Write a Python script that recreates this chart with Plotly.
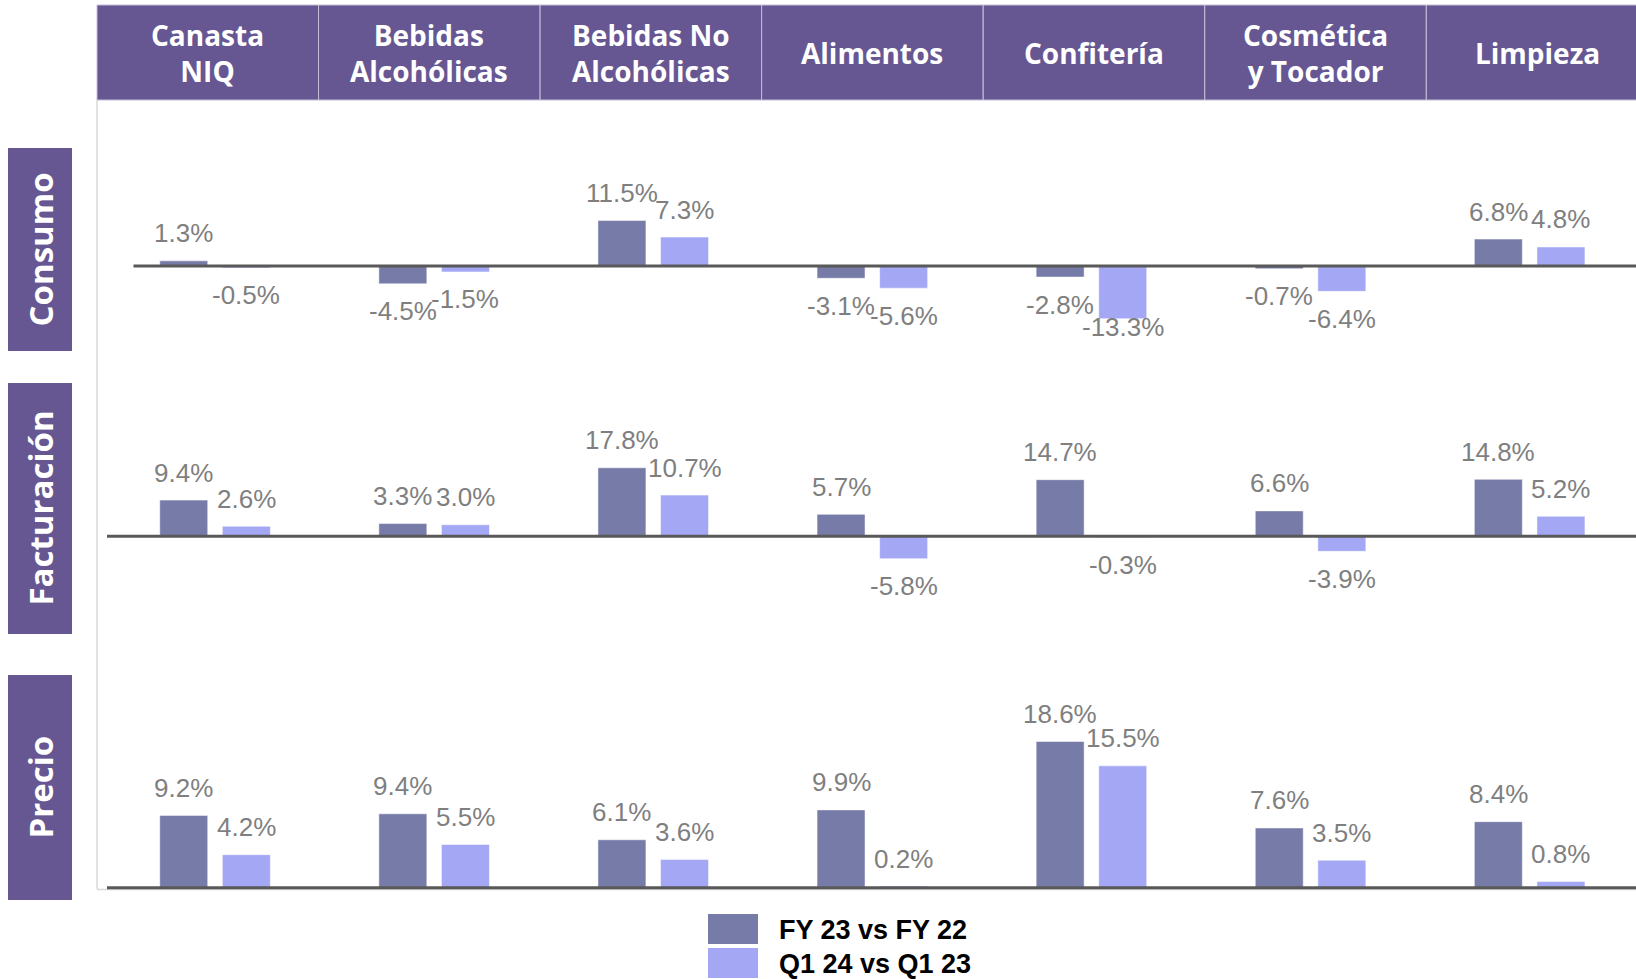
import plotly.graph_objects as go

# ---------------- data ----------------
categories = ["Canasta<br>NIQ", "Bebidas<br>Alcohólicas", "Bebidas No<br>Alcohólicas",
              "Alimentos", "Confitería", "Cosmética<br>y Tocador", "Limpieza"]
metrics = ["Consumo", "Facturación", "Precio"]
series_names = ["FY 23 vs FY 22", "Q1 24 vs Q1 23"]

consumo_fy = [1.3, -4.5, 11.5, -3.1, -2.8, -0.7, 6.8]
consumo_q1 = [-0.5, -1.5, 7.3, -5.6, -13.3, -6.4, 4.8]
facturacion_fy = [9.4, 3.3, 17.8, 5.7, 14.7, 6.6, 14.8]
facturacion_q1 = [2.6, 3.0, 10.7, -5.8, -0.3, -3.9, 5.2]
precio_fy = [9.2, 9.4, 6.1, 9.9, 18.6, 7.6, 8.4]
precio_q1 = [4.2, 5.5, 3.6, 0.2, 15.5, 3.5, 0.8]

# ---------------- style / layout ----------------
W, H = 1636, 979
PURPLE = "#665793"
FY_COLOR = "#777ba8"
Q1_COLOR = "#a3a7f4"
LABEL_GRAY = "#7f7f7f"
BASE_GRAY = "#595959"
BORDER_GRAY = "#d9d9d9"

CAT_PX = 219.1          # pixel width of one category
X_LEFT = 105.5          # pixel of left edge of category 0
BAR_W = 0.219
FY_OFF, Q1_OFF = -0.2524, 0.0333
LABEL_GAP = 27.5

# row geometry (pixels): zero line, px per %, domain top, domain bottom, baseline start, label floor
rows = [
    dict(zero=266.0, s=3.96, top=110, bottom=372, base_x=133.5, floor=327.0),
    dict(zero=536.3, s=3.85, top=380, bottom=640, base_x=107.0, floor=1e9),
    dict(zero=887.7, s=7.86, top=650, bottom=895, base_x=107.0, floor=1e9),
]
row_values = [(consumo_fy, consumo_q1), (facturacion_fy, facturacion_q1), (precio_fy, precio_q1)]

fig = go.Figure()
annotations = []
shapes = []
idx = list(range(len(categories)))

for r, (cfg, (fy, q1)) in enumerate(zip(rows, row_values)):
    xa = "x" if r == 0 else f"x{r+1}"
    ya = "y" if r == 0 else f"y{r+1}"
    for vals, off, col, name in ((fy, FY_OFF, FY_COLOR, series_names[0]),
                                 (q1, Q1_OFF, Q1_COLOR, series_names[1])):
        fig.add_trace(go.Bar(x=idx, y=vals, width=BAR_W, offset=off, name=name,
                             marker=dict(color=col, line=dict(color="rgba(255,255,255,0.5)", width=1)),
                             xaxis=xa, yaxis=ya, showlegend=False))
        for i, v in enumerate(vals):
            end_px = cfg["zero"] - v * cfg["s"]
            if v >= 0:
                lab_px = end_px - LABEL_GAP
            else:
                lab_px = min(end_px + LABEL_GAP, cfg["floor"])
            annotations.append(dict(x=i + off + BAR_W / 2, y=v, xref=xa, yref=ya,
                                    yshift=end_px - lab_px, text=f"{v:.1f}%", showarrow=False,
                                    xanchor="center", yanchor="middle",
                                    font=dict(family="Liberation Sans, Arial", size=26, color=LABEL_GRAY)))
    # baseline
    shapes.append(dict(type="line", xref="paper", yref=ya, x0=cfg["base_x"] / W, x1=1, y0=0, y1=0,
                       line=dict(color=BASE_GRAY, width=3), layer="above"))

layout_axes = {}
x_domain = [X_LEFT / W, 1]
x_range = [-0.5, -0.5 + (W - X_LEFT) / CAT_PX]
for r, cfg in enumerate(rows):
    xk = "xaxis" if r == 0 else f"xaxis{r+1}"
    yk = "yaxis" if r == 0 else f"yaxis{r+1}"
    ya = "y" if r == 0 else f"y{r+1}"
    xa = "x" if r == 0 else f"x{r+1}"
    layout_axes[xk] = dict(domain=x_domain, range=x_range, visible=False, anchor=ya, fixedrange=True)
    layout_axes[yk] = dict(domain=[1 - cfg["bottom"] / H, 1 - cfg["top"] / H],
                           range=[(cfg["zero"] - cfg["bottom"]) / cfg["s"], (cfg["zero"] - cfg["top"]) / cfg["s"]],
                           visible=False, anchor=xa, fixedrange=True)

# header cells
HDR_X0, HDR_W, HDR_T, HDR_B = 97.0, 221.55, 5.0, 100.0
for i, cat in enumerate(categories):
    x0 = HDR_X0 + i * HDR_W
    x1 = x0 + HDR_W
    shapes.append(dict(type="rect", xref="paper", yref="paper", x0=x0 / W, x1=min(x1, W + 20) / W,
                       y0=1 - HDR_B / H, y1=1 - HDR_T / H, fillcolor=PURPLE,
                       line=dict(color="#c4bfd6", width=1), layer="below"))
    annotations.append(dict(x=(x0 + x1) / 2 / W, y=1 - (HDR_T + HDR_B) / 2 / H, xref="paper", yref="paper",
                            text=cat, showarrow=False, xanchor="center", yanchor="middle",
                            font=dict(family="Open Sans", size=28, color="white", weight=700)))

# left metric labels
side_boxes = [(148, 351), (383, 634), (675, 900)]
for m, (t, b) in zip(metrics, side_boxes):
    shapes.append(dict(type="rect", xref="paper", yref="paper", x0=8 / W, x1=72 / W,
                       y0=1 - b / H, y1=1 - t / H, fillcolor=PURPLE, line=dict(width=0), layer="below"))
    annotations.append(dict(x=40 / W, y=1 - (t + b) / 2 / H, xref="paper", yref="paper", text=m,
                            textangle=-90, showarrow=False, xanchor="center", yanchor="middle",
                            font=dict(family="Open Sans", size=33, color="white", weight=700)))

# plot area border (left & bottom)
shapes.append(dict(type="line", xref="paper", yref="paper", x0=97 / W, x1=97 / W, y0=1 - 889 / H, y1=1 - 100 / H,
                   line=dict(color=BORDER_GRAY, width=1.5), layer="below"))
shapes.append(dict(type="line", xref="paper", yref="paper", x0=97 / W, x1=1, y0=1 - 889.5 / H, y1=1 - 889.5 / H,
                   line=dict(color=BORDER_GRAY, width=1.5), layer="below"))

# legend
for k, (name, col, yc) in enumerate(((series_names[0], FY_COLOR, 929), (series_names[1], Q1_COLOR, 963))):
    shapes.append(dict(type="rect", xref="paper", yref="paper", x0=708 / W, x1=758 / W,
                       y0=1 - (yc + 15) / H, y1=1 - (yc - 15) / H, fillcolor=col, line=dict(width=0)))
    annotations.append(dict(x=777 / W, y=1 - (yc + 1) / H, xref="paper", yref="paper", text=f"<b>{name}</b>",
                            showarrow=False, xanchor="left", yanchor="middle",
                            font=dict(family="Liberation Sans, Arial", size=27, color="black")))

fig.update_layout(
    width=W, height=H, margin=dict(l=0, r=0, t=0, b=0),
    paper_bgcolor="white", plot_bgcolor="rgba(0,0,0,0)",
    barmode="overlay", showlegend=False,
    annotations=annotations, shapes=shapes,
    **layout_axes,
)

fig.write_html("out.html", config={"displayModeBar": False},
               post_script="document.body.style.margin='0';document.body.style.overflow='hidden';")
